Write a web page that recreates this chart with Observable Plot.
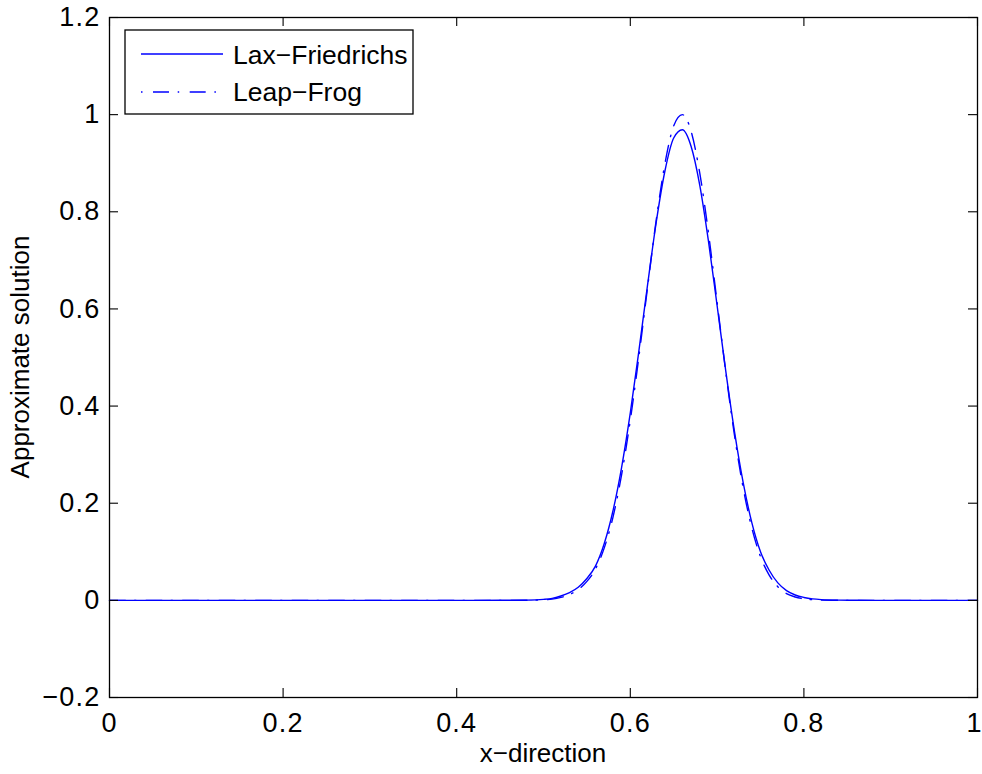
<!DOCTYPE html>
<html>
<head>
<meta charset="utf-8">
<script src="https://cdn.jsdelivr.net/npm/d3@7"></script>
<script src="https://cdn.jsdelivr.net/npm/@observablehq/plot@0.6"></script>
<style>
  html, body { margin: 0; padding: 0; background: #fff; }
  #chart { width: 982px; height: 774px; }
</style>
</head>
<body>
<div id="chart"></div>
<script>
// ---- data ----
const xGrid = [0, 0.1, 0.2, 0.3, 0.4, 0.45, 0.48,
  0.50, 0.51, 0.52, 0.53, 0.54, 0.55, 0.56, 0.57, 0.58, 0.59,
  0.60, 0.61, 0.62, 0.63, 0.64, 0.65, 0.66, 0.67, 0.68, 0.69,
  0.70, 0.71, 0.72, 0.73, 0.74, 0.75, 0.76, 0.77, 0.78, 0.79,
  0.80, 0.81, 0.82, 0.84, 0.86, 0.90, 1.0];

const laxFriedrichs = [0, 0, 0, 0, 0, 0.0001, 0.0005,
  0.002, 0.004, 0.009, 0.016, 0.027, 0.045, 0.071, 0.117, 0.184, 0.274,
  0.386, 0.515, 0.651, 0.780, 0.885, 0.952, 0.969, 0.935, 0.855, 0.740,
  0.607, 0.472, 0.348, 0.243, 0.160, 0.100, 0.062, 0.036, 0.020, 0.011,
  0.006, 0.003, 0.0015, 0.0004, 0.0001, 0, 0];

const leapFrog = [0, 0, 0, 0, 0, 0, 0.0003,
  0.001, 0.0025, 0.006, 0.012, 0.022, 0.039, 0.065, 0.108, 0.171, 0.259,
  0.371, 0.503, 0.646, 0.785, 0.900, 0.977, 1.000, 0.966, 0.880, 0.757,
  0.614, 0.470, 0.340, 0.232, 0.149, 0.090, 0.052, 0.028, 0.014, 0.007,
  0.003, 0.0013, 0.0005, 0.0001, 0, 0, 0];

const seriesNames = ["Lax\u2212Friedrichs", "Leap\u2212Frog"];
const xTicks = [0, 0.2, 0.4, 0.6, 0.8, 1];
const yTicks = [-0.2, 0, 0.2, 0.4, 0.6, 0.8, 1, 1.2];
const xLabel = "x\u2212direction";
const yLabel = "Approximate solution";

// ---- build tables ----
const lfData = xGrid.map((x, i) => ({x, y: laxFriedrichs[i]}));
const lpData = xGrid.map((x, i) => ({x, y: leapFrog[i]}));

const W = 982, H = 774;
const mt = 17, mr = 5, mb = 77, ml = 109;
const ph = H - mt - mb, pw = W - ml - mr;
const TL = 9;
const fmt = d3.format("~g");
const FONT = "'Liberation Sans', Arial, Helvetica, sans-serif";
const blue = "#0000ff";
const dash = "16,9,1.5,10";

const chart = Plot.plot({
  width: W, height: H,
  marginTop: mt, marginRight: mr, marginBottom: mb, marginLeft: ml,
  style: {fontFamily: FONT, fontSize: "26px", color: "black", background: "white", overflow: "visible"},
  x: {domain: [0, 1]},
  y: {domain: [-0.2, 1.2]},
  marks: [
    Plot.line(lfData, {x: "x", y: "y", stroke: blue, strokeWidth: 1.4, curve: "monotone-x"}),
    Plot.line(lpData, {x: "x", y: "y", stroke: blue, strokeWidth: 1.4, strokeDasharray: dash, curve: "monotone-x"}),
    Plot.frame({stroke: "black", strokeWidth: 1.3}),
    Plot.tickX(xTicks, {x: d => d, insetTop: ph - TL, stroke: "black", strokeWidth: 1.1}),
    Plot.tickX(xTicks, {x: d => d, insetBottom: ph - TL, stroke: "black", strokeWidth: 1.1}),
    Plot.tickY(yTicks, {y: d => d, insetRight: pw - TL, stroke: "black", strokeWidth: 1.1}),
    Plot.tickY(yTicks, {y: d => d, insetLeft: pw - TL, stroke: "black", strokeWidth: 1.1}),
    Plot.axisX(xTicks.slice(0, -1), {tickSize: 0, tickPadding: 15, tickFormat: fmt, label: null, fontSize: 27}),
    Plot.axisX(xTicks.slice(-1), {tickSize: 0, tickPadding: 15, tickFormat: fmt, label: null, fontSize: 27, dx: -3}),
    Plot.axisY(yTicks, {tickSize: 0, tickPadding: 9, tickFormat: fmt, label: null, fontSize: 27})
  ]
});

const svg = d3.select(chart);
// slightly wider tick-label spacing, as in the reference
svg.selectAll("g[aria-label='x-axis tick label'] text, g[aria-label='y-axis tick label'] text")
  .style("letter-spacing", "1.2px");

// axis titles
svg.append("text")
  .attr("x", ml + pw / 2).attr("y", 762)
  .attr("text-anchor", "middle")
  .style("font-family", FONT).style("font-size", "26px").attr("fill", "black")
  .text(xLabel);
svg.append("text")
  .attr("transform", `translate(29, ${mt + ph / 2}) rotate(-90)`)
  .attr("text-anchor", "middle")
  .style("font-family", FONT).style("font-size", "26px").attr("fill", "black")
  .text(yLabel);

// legend
const lg = svg.append("g").attr("text-anchor", "start");
lg.append("rect")
  .attr("x", 125).attr("y", 30).attr("width", 288).attr("height", 84)
  .attr("fill", "white").attr("stroke", "black").attr("stroke-width", 1.3);
const rows = [{name: seriesNames[0], dash: null, ly: 54, ty: 64},
              {name: seriesNames[1], dash: dash, ly: 92, ty: 101}];
rows.forEach(r => {
  const ln = lg.append("line")
    .attr("x1", 141).attr("x2", 223).attr("y1", r.ly).attr("y2", r.ly)
    .attr("stroke", blue).attr("stroke-width", 1.4);
  if (r.dash) ln.attr("stroke-dasharray", "1.5,10.5,16,8.7");
  lg.append("text")
    .attr("x", 233).attr("y", r.ty)
    .attr("text-anchor", "start")
    .style("font-family", FONT).style("font-size", "26.5px").attr("fill", "black")
    .text(r.name);
});

document.getElementById("chart").appendChild(chart);
</script>
</body>
</html>
